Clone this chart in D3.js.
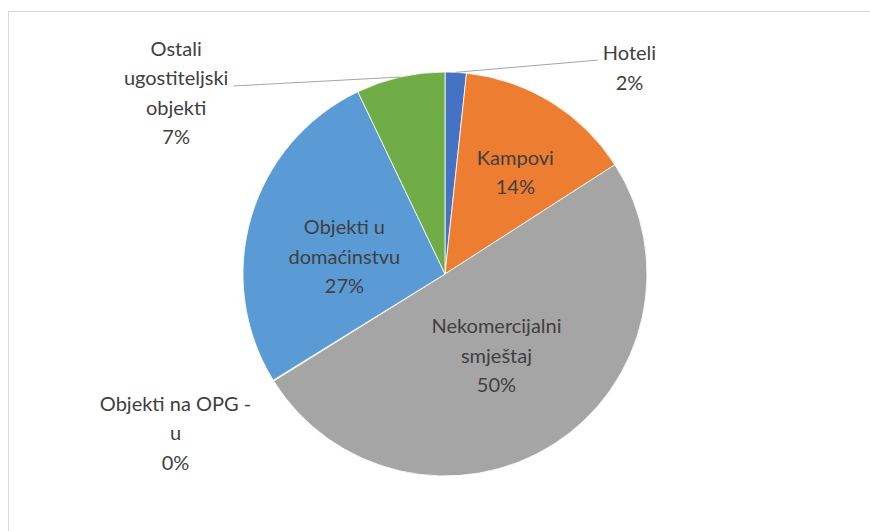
<!DOCTYPE html>
<html>
<head>
<meta charset="utf-8">
<script src="https://cdn.jsdelivr.net/npm/d3@7"></script>
<style>
  body { margin: 0; background: #fff; }
  svg { display: block; }
  text { font-family: Lato, "Open Sans", sans-serif; fill: #404040; }
</style>
</head>
<body>
<svg width="870" height="531"></svg>
<script>

var width = 870
var height = 531

// data (shares in %)
var categories = ["Hoteli", "Kampovi", "Nekomercijalni smještaj", "Objekti na OPG - u", "Objekti u domaćinstvu", "Ostali ugostiteljski objekti"]
var values = [1.7, 14.2, 50.2, 0.08, 26.7, 7.1]
var labelLines = [["Hoteli"], ["Kampovi"], ["Nekomercijalni", "smještaj"], ["Objekti na OPG -", "u"], ["Objekti u", "domaćinstvu"], ["Ostali", "ugostiteljski", "objekti"]]
var colors = ["#4472C4", "#ED7D31", "#A5A5A5", "#FFC000", "#5B9BD5", "#70AD47"]

var cx = 445, cy = 274, r = 202
var lineH = 29.5

// label placement: inside labels relative to centroid at 0.55r, outside ones to 1.25r
var outside = {"Hoteli": true, "Objekti na OPG - u": true, "Ostali ugostiteljski objekti": true}
var labelShift = {
  "Hoteli": [171, 53],
  "Kampovi": [12, 0],
  "Nekomercijalni smještaj": [-8, -5],
  "Objekti na OPG - u": [-55, 33],
  "Objekti u domaćinstvu": [6, 21],
  "Ostali ugostiteljski objekti": [-213, 72]
}

var data = categories.map(function(c, i) {
  return {name: c, value: values[i], lines: labelLines[i], color: colors[i]}
})

var svg = d3.select("svg")

// chart frame
svg.append("rect")
  .attr("x", 8.5).attr("y", 11.5)
  .attr("width", 1000).attr("height", 1000)
  .attr("fill", "none")
  .attr("stroke", "#D9D9D9")
  .attr("stroke-width", 1)

var pie = d3.pie().sort(null).value(function(d) { return d.value })
var arcs = pie(data)
var total = d3.sum(values)

var arc = d3.arc().innerRadius(0).outerRadius(r)
var inArc = d3.arc().innerRadius(r * 0.55).outerRadius(r * 0.55)
var outArc = d3.arc().innerRadius(r * 1.25).outerRadius(r * 1.25)
var edgeArc = d3.arc().innerRadius(r).outerRadius(r)

var g = svg.append("g")
  .attr("transform", "translate(" + cx + "," + cy + ")")

g.selectAll(".slice")
  .data(arcs)
  .enter().append("path")
    .attr("class", "slice")
    .attr("d", arc)
    .attr("fill", function(d) { return d.data.color })
    .attr("stroke", "#fff")
    .attr("stroke-width", 0.8)

// labels
var labels = g.selectAll(".lbl")
  .data(arcs)
  .enter().append("text")
    .attr("class", "lbl")
    .attr("text-anchor", "middle")
    .style("font-size", "20px")
    .each(function(d) {
      var base = outside[d.data.name] ? outArc.centroid(d) : inArc.centroid(d)
      var s = labelShift[d.data.name]
      d.lx = base[0] + s[0]
      d.ly = base[1] + s[1]
      var lines = d.data.lines.concat([Math.round(d.data.value / total * 100) + "%"])
      var n = lines.length
      var t = d3.select(this)
      lines.forEach(function(l, i) {
        t.append("tspan")
          .attr("x", d.lx)
          .attr("y", d.ly + (i - (n - 1) / 2) * lineH)
          .text(l)
      })
    })

// leader lines for the two outside labels that have them
labels.filter(function(d) { return d.data.name == "Hoteli" || d.data.name == "Ostali ugostiteljski objekti" })
  .each(function(d) {
    var bb = this.getBBox()
    var p = edgeArc.centroid(d)
    var n = d.data.lines.length + 1
    var ex, ey
    if (d.data.name == "Hoteli") {
      ex = bb.x - 5
      ey = d.ly - (n - 1) / 2 * lineH
    } else {
      ex = bb.x + bb.width + 5
      ey = d.ly + (1 - (n - 1) / 2) * lineH + 1
    }
    g.insert("line", ".lbl")
      .attr("x1", p[0]).attr("y1", p[1])
      .attr("x2", ex).attr("y2", ey)
      .attr("stroke", "#A6A6A6")
      .attr("stroke-width", 1)
  })

</script>
</body>
</html>
